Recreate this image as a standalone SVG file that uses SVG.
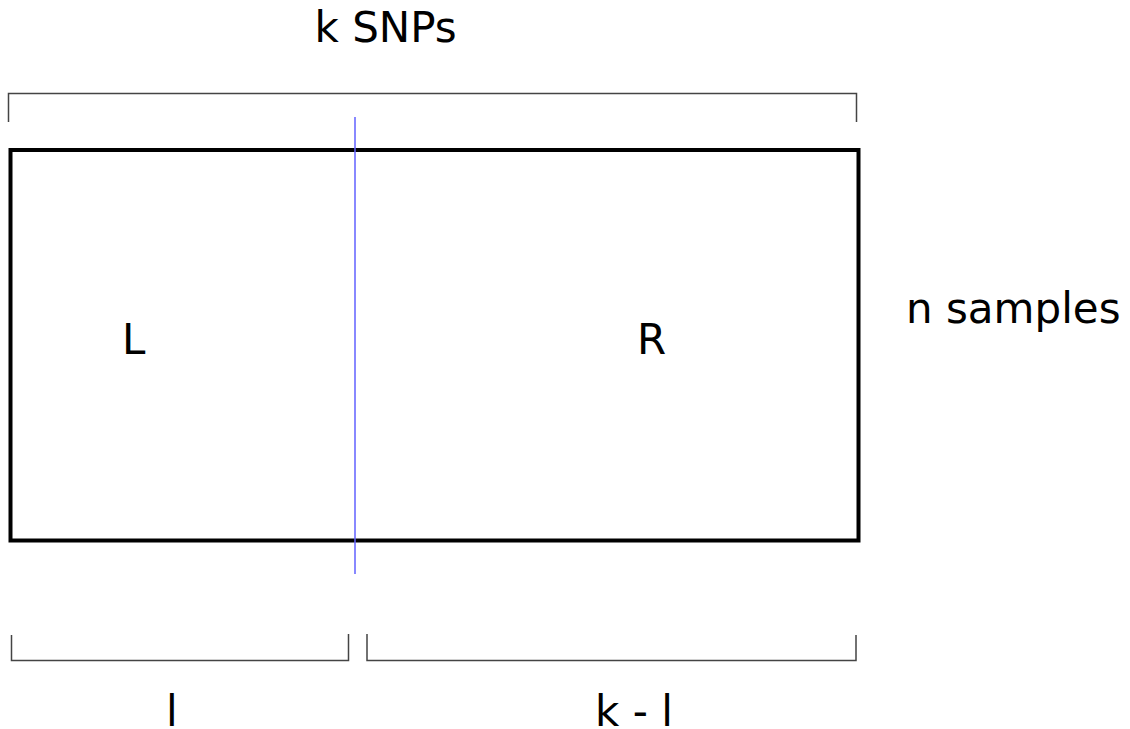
<svg xmlns="http://www.w3.org/2000/svg" width="1130" height="729" viewBox="0 0 1130 729">
<style>
.t{font-family:"DejaVu Sans","Liberation Sans",sans-serif;font-size:42px;fill:#000}
.br{fill:none;stroke:#444;stroke-width:1.5}
</style>
<rect width="1130" height="729" fill="#fff"/>
<g id="matrix">
<rect x="10.5" y="150" width="848" height="390.5" fill="none" stroke="#000" stroke-width="4"/>
<text class="t" x="122" y="354">L</text>
<text class="t" x="637" y="354">R</text>
</g>
<g id="connectors">
<line x1="355" y1="117" x2="355" y2="574" stroke="#6060ff" stroke-width="1.5"/>
<path class="br" d="M8.5,122 V93.5 H856.5 V122"/>
<path class="br" d="M11.5,635 V660.5 H348.5 V634"/>
<path class="br" d="M367,634 V660.5 H856 V635"/>
</g>
<g id="labels">
<text class="t" x="314.5" y="42">k SNPs</text>
<text class="t" x="906" y="323">n samples</text>
<text class="t" x="166" y="726">l</text>
<text class="t" x="595" y="726">k - l</text>
</g>
</svg>
